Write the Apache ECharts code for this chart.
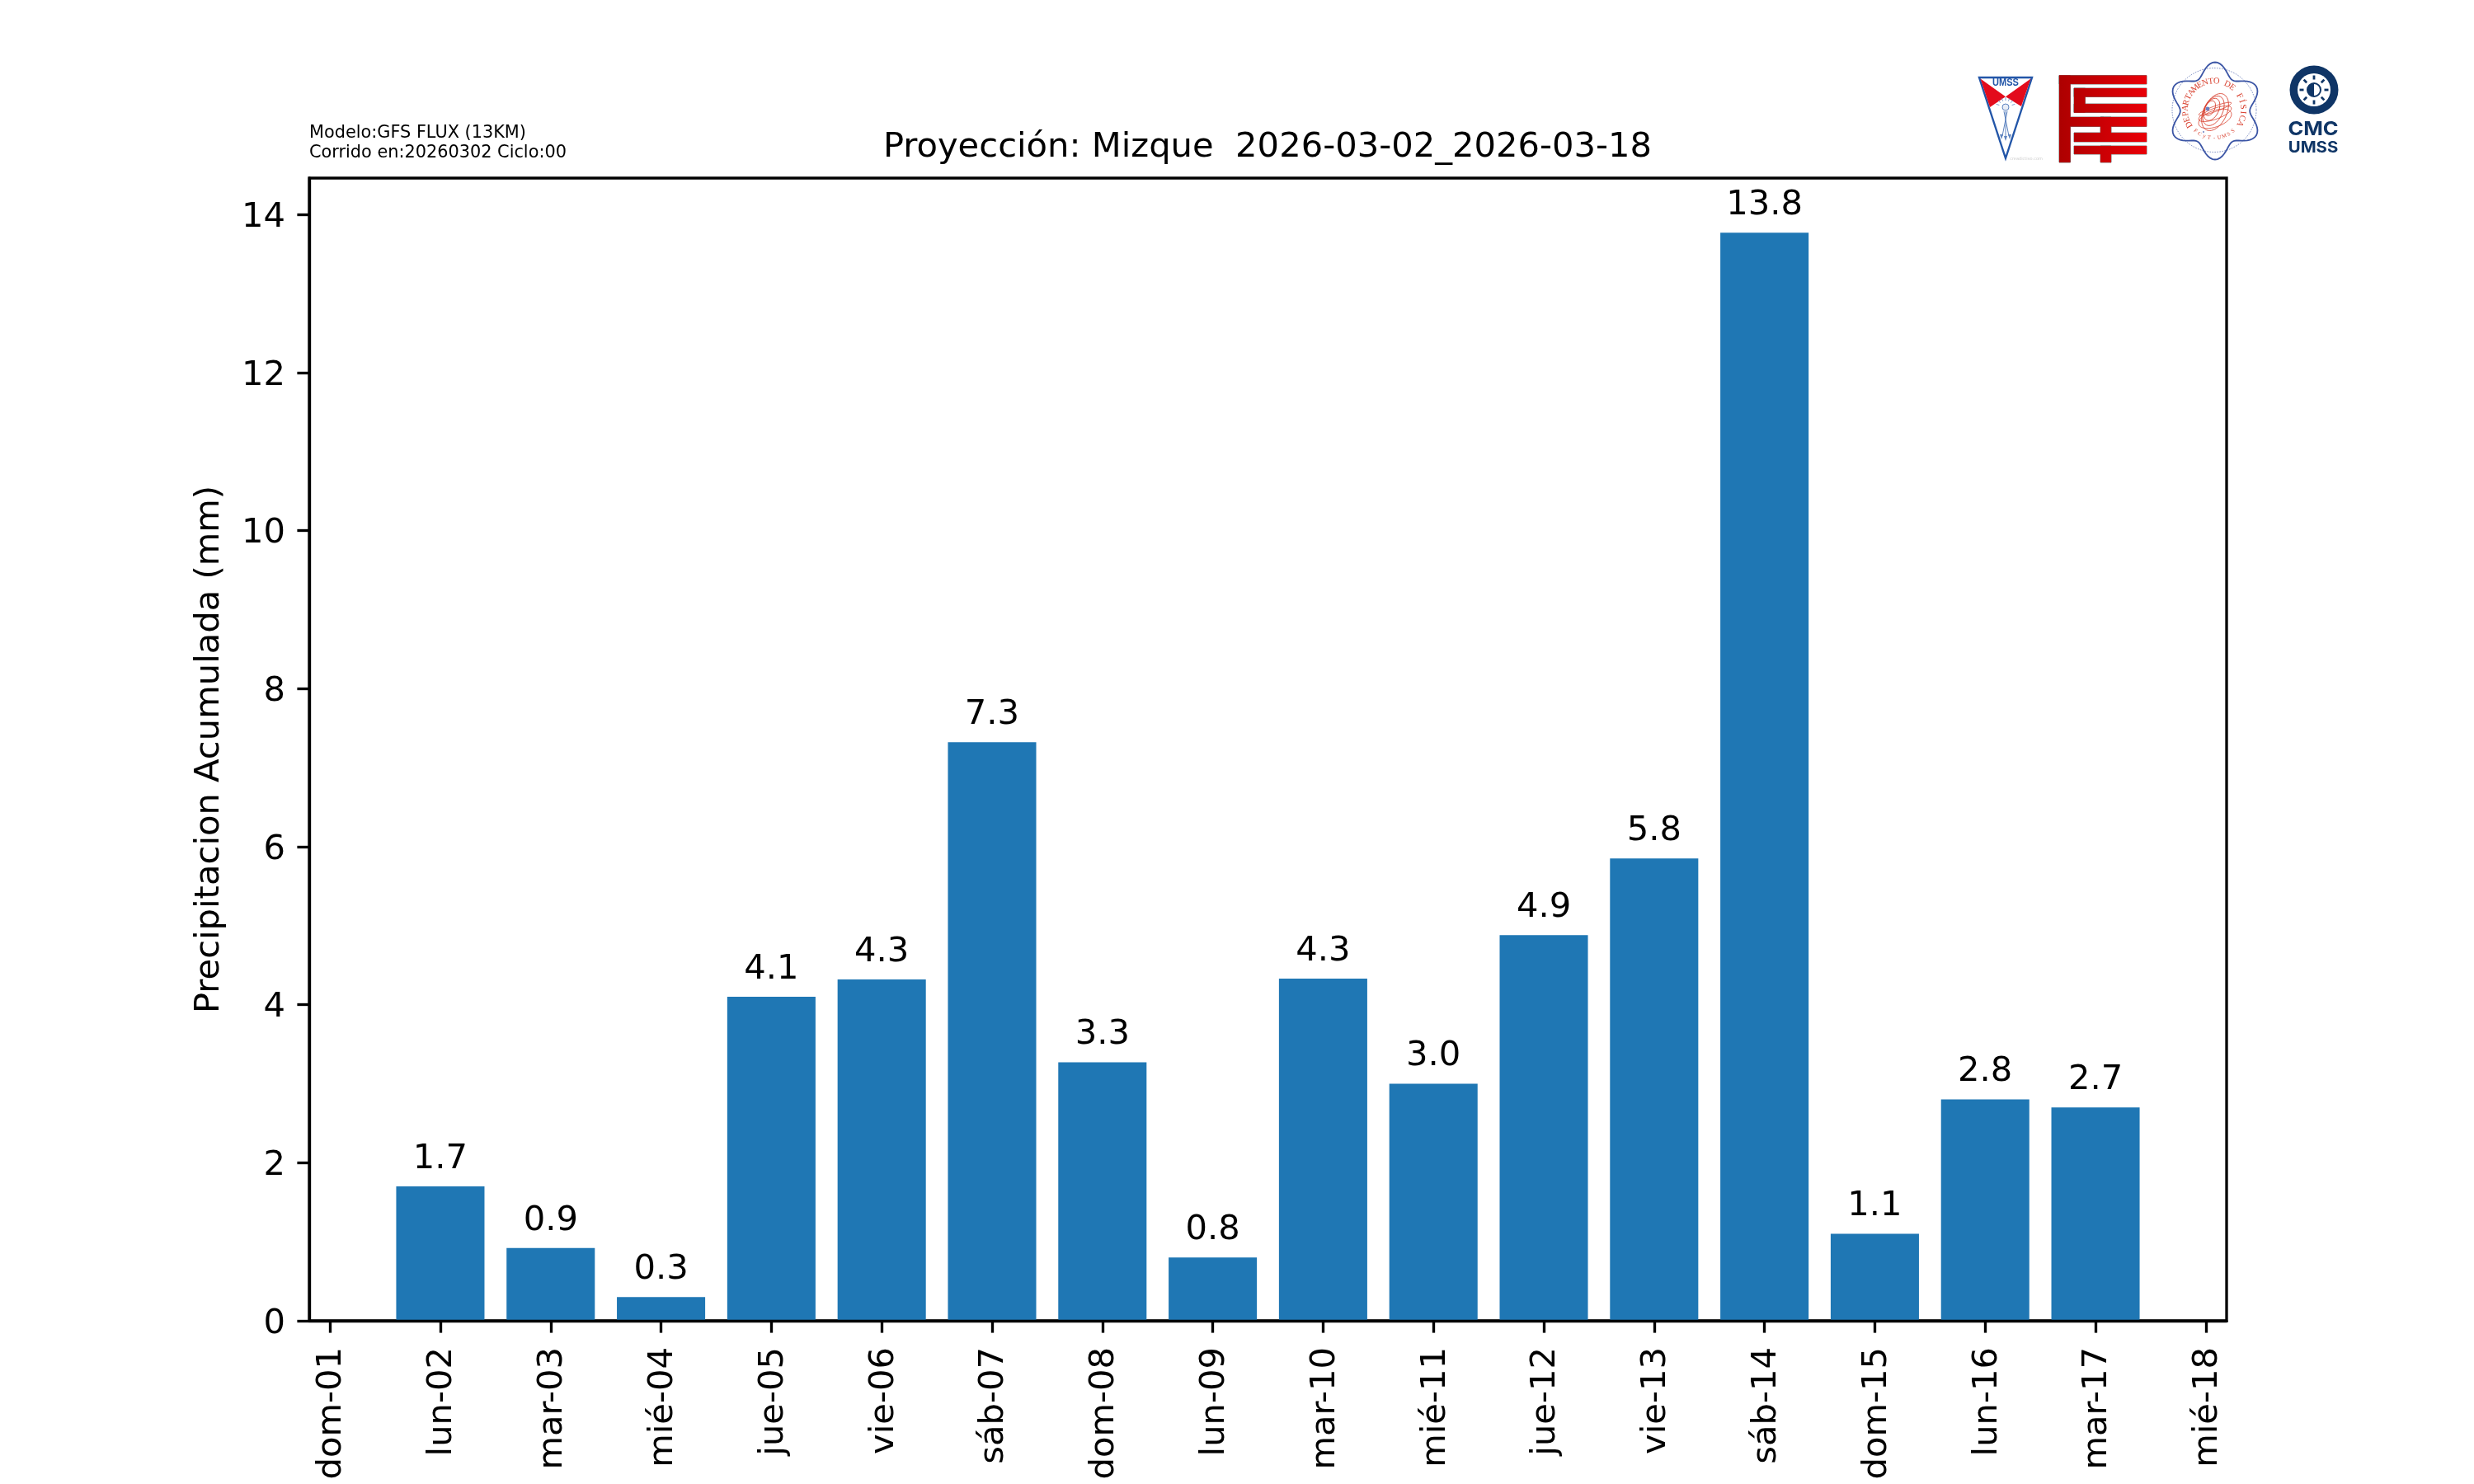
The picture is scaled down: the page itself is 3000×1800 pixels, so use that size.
<!DOCTYPE html>
<html><head><meta charset="utf-8">
<style>html,body{margin:0;padding:0;background:#fff}#c{width:3000px;height:1800px}</style>
<script src="https://cdn.jsdelivr.net/npm/echarts@6/dist/echarts.min.js"></script>
</head><body><div id="c"></div>
<script>
const tickLabels = ['dom-01','lun-02','mar-03','mié-04','jue-05','vie-06','sáb-07','dom-08','lun-09','mar-10','mié-11','jue-12','vie-13','sáb-14','dom-15','lun-16','mar-17','mié-18'];
const dayIndex = [1,2,3,4,5,6,7,8,9,10,11,12,13,14,15,16];
const precip = [1.70,0.92,0.30,4.10,4.32,7.32,3.27,0.80,4.33,3.00,4.88,5.849,13.77,1.10,2.80,2.70];
const yTicks = [0,2,4,6,8,10,12,14];
const FONT = '"DejaVu Sans"';
const BLUE='#3b55a5', NAVY='#0f3566', DRED='#d8402f', SHIELD='#2356a8';

function shieldLogo(){
  const emblem='#5f84c0';
  const out=[
    {type:'polygon',shape:{points:[[2400,94],[2464,94],[2432,192]]},style:{fill:'#fff',stroke:SHIELD,lineWidth:2.4,lineJoin:'miter'}},
    {type:'polygon',shape:{points:[[2401.5,95.5],[2432,117.3],[2413,130]]},style:{fill:'#e30b1c'}},
    {type:'polygon',shape:{points:[[2462.5,95.5],[2432,117.3],[2451,129]]},style:{fill:'#e30b1c'}},
    {type:'text',x:2432,y:101,scaleX:0.92,style:{text:'UMSS',x:0,y:0,font:'bold 12px "Liberation Sans"',fill:SHIELD,align:'center',verticalAlign:'middle'}},
    {type:'circle',shape:{cx:2432,cy:130,r:4},style:{fill:'#e8edf7',stroke:emblem,lineWidth:1}},
    {type:'line',shape:{x1:2430,y1:135,x2:2436,y2:165},style:{stroke:emblem,lineWidth:1}},
    {type:'line',shape:{x1:2434,y1:135,x2:2428,y2:165},style:{stroke:emblem,lineWidth:1}},
    {type:'line',shape:{x1:2432,y1:135,x2:2432,y2:167},style:{stroke:emblem,lineWidth:1}},
    {type:'polygon',shape:{points:[[2425,163],[2429,163],[2427,169]]},style:{fill:emblem}},
    {type:'polygon',shape:{points:[[2435,163],[2439,163],[2437,169]]},style:{fill:emblem}},
    {type:'polygon',shape:{points:[[2430,165],[2434,165],[2432,171]]},style:{fill:emblem}},
    {type:'text',style:{text:'creadictivo.com',x:2457,y:193,font:'5px "DejaVu Sans"',fill:'#ccc',align:'center',verticalAlign:'middle'}}
  ];
  for(let i=-3;i<=3;i++){const a=i*0.42;
    out.push({type:'line',shape:{x1:2432+8*Math.sin(a),y1:130-8*Math.cos(a),x2:2432+12*Math.sin(a),y2:130-12*Math.cos(a)},style:{stroke:emblem,lineWidth:0.8}});}
  return out;
}
function fffLogo(){
  const g = {type:'linear',global:true,x:2497,y:0,x2:2603,y2:0,colorStops:[{offset:0,color:'#ad0000'},{offset:1,color:'#e90008'}]};
  const rects=[[2497,91.5,106,10.5],[2497,91.5,13.5,105.5],[2515,107,88,10.5],[2515,107,13.5,29.5],[2515,126,88,10.5],[2510,142,41,11.5],[2547,142,56,11.5],[2547,142,13,19],[2515,161,88,11],[2515,177,88,10],[2547,177,13,20]];
  return [
    ...rects.map(r=>({type:'rect',shape:{x:r[0],y:r[1],width:r[2],height:r[3]},style:{fill:'#777',stroke:'#777',lineWidth:1}})),
    ...rects.map(r=>({type:'rect',shape:{x:r[0],y:r[1],width:r[2],height:r[3]},style:{fill:g}}))
  ];
}
function deptLogo(){
  const cx=2686, cy=134.5, out=[];
  let pts=[];
  for(let i=0;i<=360;i+=3){const a=i*Math.PI/180;const r=51+8*Math.cos(6*a);pts.push([cx+r*Math.sin(a)*0.98,cy-r*Math.cos(a)]);}
  out.push({type:'polyline',shape:{points:pts},style:{stroke:BLUE,lineWidth:1.8,fill:'none'}});
  out.push({type:'circle',shape:{cx:cx-1,cy:cy-1,r:51},style:{stroke:BLUE,lineWidth:0.7,lineDash:[1.5,1.5],fill:'none'}});
  const arc=(str,rad,startDeg,stepDeg,inv,font)=>str.split('').forEach((ch,i)=>{
    const d=startDeg+i*stepDeg, a=d*Math.PI/180;
    out.push({type:'text',rotation:inv?-(a-Math.PI):-a,x:cx-1+rad*Math.sin(a),y:cy-1-rad*Math.cos(a),
      style:{text:ch,x:0,y:0,font:font,fill:DRED,align:'center',verticalAlign:'middle'}});
  });
  arc('DEPARTAMENTO DE FÍSICA',35,-120,11.3,false,'10.5px "Liberation Serif"');
  arc('FCyT-UMSS',34,222,-10.5,true,'6.5px "Liberation Serif"');
  const pole=[2676,128], mid=[2686,136];
  [0.4,0.6,0.8,1].forEach(t=>{
    const ex=pole[0]+t*(mid[0]-pole[0]), ey=pole[1]+t*(mid[1]-pole[1]);
    out.push({type:'ellipse',shape:{cx:0,cy:0,rx:14*t,ry:24*t},x:ex,y:ey,rotation:-0.45,style:{stroke:DRED,lineWidth:0.8,fill:'none'}});
  });
  [6,12,18].forEach(d=>{
    out.push({type:'ellipse',shape:{cx:0,cy:0,rx:21,ry:d*0.55},x:2686,y:126+d,rotation:0.35,style:{stroke:DRED,lineWidth:0.7,fill:'none'}});
  });
  out.push({type:'circle',shape:{cx:2677,cy:132,r:2.4},style:{fill:'#6b7fc0'}});
  out.push({type:'circle',shape:{cx:2672,cy:160,r:1},style:{fill:'#6b7fc0'}});
  return out;
}
function cmcLogo(){
  const cx=2806, cy=109, out=[];
  out.push({type:'circle',shape:{cx,cy,r:29.5},style:{fill:NAVY}});
  out.push({type:'circle',shape:{cx,cy,r:20},style:{fill:'#fff'}});
  for(let i=0;i<8;i++){const a=i*Math.PI/4;
    out.push({type:'line',shape:{x1:cx+12.5*Math.cos(a),y1:cy+12.5*Math.sin(a),x2:cx+17.5*Math.cos(a),y2:cy+17.5*Math.sin(a)},style:{stroke:NAVY,lineWidth:2.8}});}
  out.push({type:'circle',shape:{cx,cy,r:8},style:{fill:'#fff',stroke:NAVY,lineWidth:2}});
  out.push({type:'sector',shape:{cx,cy,r:8,startAngle:Math.PI/2,endAngle:Math.PI*1.5},style:{fill:NAVY}});
  out.push({type:'text',x:cx-1,y:157,scaleX:1.08,style:{text:'CMC',x:0,y:0,font:'bold 23.5px Inter',fill:NAVY,align:'center',verticalAlign:'middle'}});
  out.push({type:'text',x:cx-1,y:179.5,scaleX:1.1,style:{text:'UMSS',x:0,y:0,font:'bold 18.5px Inter',fill:NAVY,align:'center',verticalAlign:'middle'}});
  return out;
}

const chart = echarts.init(document.getElementById('c'),null,{renderer:'canvas',width:3000,height:1800});
chart.setOption({
  animation:false,
  backgroundColor:'#fff',
  textStyle:{fontFamily:FONT},
  title:[
    {text:'Proyección: Mizque  2026-03-02_2026-03-18',left:1532,top:153,textAlign:'center',
     textStyle:{fontFamily:FONT,fontSize:41.67,fontWeight:'normal',color:'#000'}},
    {text:'Modelo:GFS FLUX (13KM)\nCorrido en:20260302 Ciclo:00',left:375,top:150,padding:0,
     textStyle:{fontFamily:FONT,fontSize:20.83,fontWeight:'normal',color:'#000',lineHeight:24}}
  ],
  grid:{left:375,right:300,top:216,bottom:198,show:true,borderColor:'#000',borderWidth:3.33,backgroundColor:'#fff'},
  xAxis:{type:'value',min:-0.188,max:17.188,z:5,
    splitLine:{show:false},
    axisLine:{show:true,lineStyle:{color:'#000',width:3.33}},
    axisTick:{show:true,length:14.6,lineStyle:{color:'#000',width:3.33},customValues:tickLabels.map((_,i)=>i)},
    axisLabel:{customValues:tickLabels.map((_,i)=>i),rotate:90,margin:32,verticalAlign:'top',lineHeight:5,color:'#000',fontFamily:FONT,fontSize:41.67,
      formatter:v=>tickLabels[v]}
  },
  yAxis:{type:'value',min:0,max:14.46,z:5,
    name:'Precipitacion Acumulada (mm)',nameLocation:'middle',nameGap:99.5,
    nameTextStyle:{color:'#000',fontFamily:FONT,fontSize:41.67},
    splitLine:{show:false},
    axisLine:{show:true,onZero:false,lineStyle:{color:'#000',width:3.33}},
    axisTick:{show:true,length:14.6,lineStyle:{color:'#000',width:3.33},customValues:yTicks},
    axisLabel:{customValues:yTicks,margin:29,verticalAlign:'top',lineHeight:8,color:'#000',fontFamily:FONT,fontSize:41.67}
  },
  series:[{type:'bar',barWidth:'80%',z:2,
    itemStyle:{color:'#1f77b4'},
    data:dayIndex.map((d,i)=>[d,precip[i]]),
    label:{show:true,position:'top',distance:12,color:'#000',fontFamily:FONT,fontSize:41.67,
      formatter:p=>p.value[1].toFixed(1)}
  }],
  graphic:[{type:'group',silent:true,children:[...shieldLogo(),...fffLogo(),...deptLogo(),...cmcLogo()]}]
});
</script></body></html>
